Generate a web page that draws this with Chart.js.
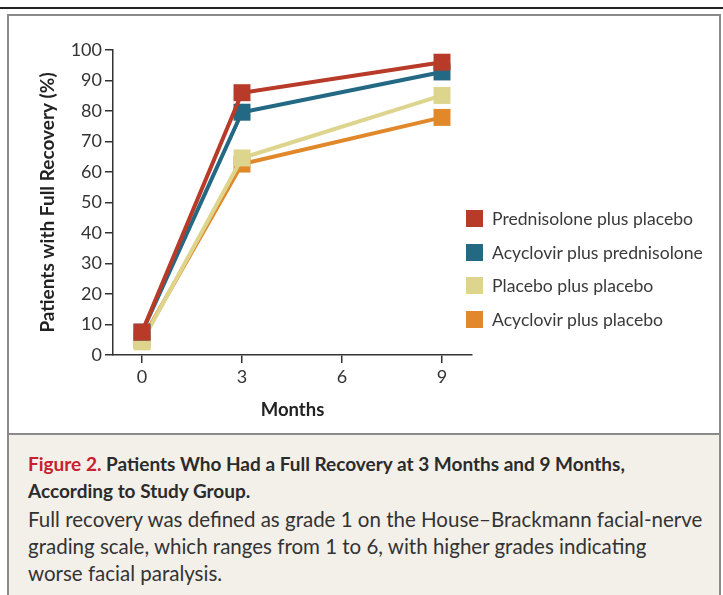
<!DOCTYPE html>
<html>
<head>
<meta charset="utf-8">
<script src="https://cdn.jsdelivr.net/npm/chart.js@4/dist/chart.umd.min.js"></script>
<style>
  body { margin: 0; width: 723px; height: 595px; position: relative; background: #fff; font-family: Lato, sans-serif; overflow: hidden; }
  #topline { position: absolute; left: 0; top: 7px; width: 723px; height: 2px; background: #222; }
  #box { position: absolute; left: 7px; top: 14px; width: 710px; height: 590px; border: 2px solid #8a8a8a; }
  #cv { position: absolute; left: 0; top: 0; }
  #legend { position: absolute; left: 466px; top: 208px; }
  .item { height: 33.5px; display: flex; align-items: flex-start; color: #3a3a3a; font-size: 17.6px; }
  .sw { width: 17px; height: 17px; margin-right: 9px; margin-top: 2px; }
  #caption { position: absolute; left: 9px; top: 433px; width: 710px; height: 170px; background: #f3f0ea; border-top: 2px solid #8a8a8a; }
  #cap-title { position: absolute; left: 19px; top: 15px; font-size: 19px; font-weight: bold; color: #2b2b2b; line-height: 27px; }
  #cap-title .fig { color: #c8202f; }
  #cap-body { position: absolute; left: 19px; top: 71px; font-size: 20.5px; color: #333; line-height: 27px; }
</style>
</head>
<body>
<div id="topline"></div>
<div id="box"></div>
<div id="caption">
  <div id="cap-title"><span class="fig">Figure 2.</span> Patients Who Had a Full Recovery at 3 Months and 9 Months,<br>According to Study Group.</div>
  <div id="cap-body">Full recovery was defined as grade 1 on the House–Brackmann facial-nerve<br>grading scale, which ranges from 1 to 6, with higher grades indicating<br>worse facial paralysis.</div>
</div>
<canvas id="cv" width="723" height="433"></canvas>
<div id="legend"></div>
<script>
var months = [0, 3, 9];
var xTicks = [0, 3, 6, 9];
var yTicks = [0, 10, 20, 30, 40, 50, 60, 70, 80, 90, 100];

var groups = ["Prednisolone plus placebo", "Acyclovir plus prednisolone", "Placebo plus placebo", "Acyclovir plus placebo"];
var colores = ["#b83a28", "#236983", "#ddd58d", "#e0882a"];

var prednisolonaPlacebo = [7.5, 86, 96];
var aciclovirPrednisolona = [7.5, 79.6, 92.8];
var placeboPlacebo = [4.3, 64.6, 85.1];
var aciclovirPlacebo = [5, 62.6, 77.9];

var series = [prednisolonaPlacebo, aciclovirPrednisolona, placeboPlacebo, aciclovirPlacebo];

var datasets = [];
for (var i = 0; i < series.length; i++) {
    var pts = [];
    for (var j = 0; j < months.length; j++) {
        pts.push({x: months[j], y: series[i][j]});
    }
    datasets.push({
        label: groups[i],
        data: pts,
        borderColor: colores[i],
        backgroundColor: colores[i],
        borderWidth: 4,
        pointStyle: 'rect',
        pointRadius: 12,
        pointHoverRadius: 12,
        pointBorderWidth: 0,
        tension: 0
    });
}

// leyenda en html
var html = "";
for (var k = 0; k < groups.length; k++) {
    html += '<div class="item"><div class="sw" style="background:' + colores[k] + '"></div><span>' + groups[k] + '</span></div>';
}
document.getElementById("legend").innerHTML = html;

var tickFont = {family: "Lato", size: 18};
var ink = "#333";

new Chart(document.getElementById("cv"), {
    type: 'line',
    data: {datasets: datasets},
    options: {
        responsive: false,
        animation: false,
        layout: {padding: {left: 0, top: 50, right: 251, bottom: 0}},
        plugins: {legend: {display: false}, tooltip: {enabled: false}},
        scales: {
            x: {
                type: 'linear',
                min: -0.87,
                max: 9.9,
                afterBuildTicks: function(axis) {
                    axis.ticks = xTicks.map(function(v) { return {value: v}; });
                },
                afterFit: function(axis) { axis.height = 78; },
                grid: {drawOnChartArea: false, drawTicks: true, tickLength: 8, color: ink, lineWidth: 1.5},
                border: {display: true, color: ink, width: 1.5},
                ticks: {font: tickFont, color: ink, padding: 3},
                title: {display: true, text: "Months", font: {family: "Lato", size: 18.5, weight: "bold"}, color: "#222", padding: {top: 0, bottom: 12}}
            },
            y: {
                min: 0,
                max: 100,
                afterBuildTicks: function(axis) {
                    axis.ticks = yTicks.map(function(v) { return {value: v}; });
                },
                afterFit: function(axis) { axis.width = 113; },
                grid: {drawOnChartArea: false, drawTicks: true, tickLength: 8, color: ink, lineWidth: 1.5},
                border: {display: true, color: ink, width: 1.5},
                ticks: {font: tickFont, color: ink, padding: 3},
                title: {display: true, text: "Patients with Full Recovery (%)", font: {family: "Lato", size: 19, weight: "bold"}, color: "#222", padding: {top: 36, bottom: 0}}
            }
        }
    }
});
</script>
</body>
</html>
